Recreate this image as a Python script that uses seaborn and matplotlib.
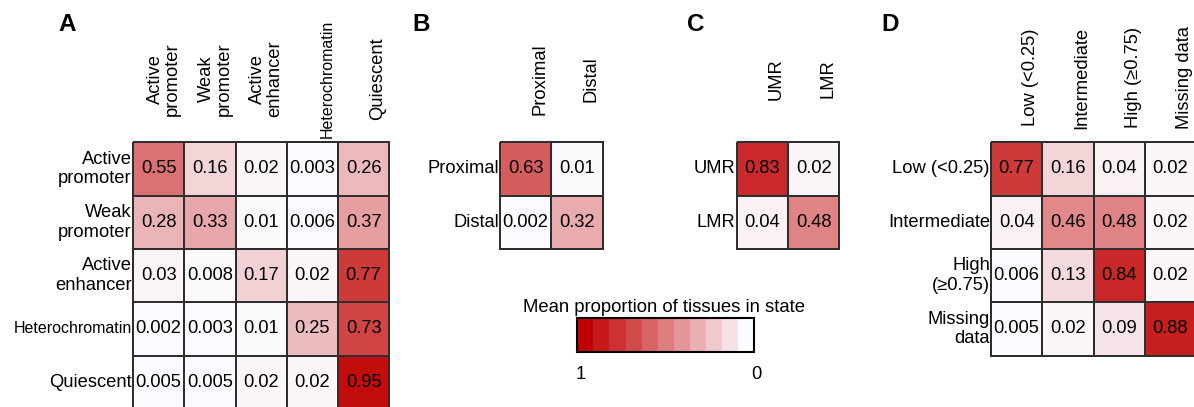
import numpy as np
import pandas as pd
import matplotlib
matplotlib.use("Agg")
import matplotlib.pyplot as plt
import matplotlib.transforms as mtransforms
from matplotlib.colors import LinearSegmentedColormap
import seaborn as sns

sns.set_style("white")
plt.rcParams["font.family"] = ["Liberation Sans", "DejaVu Sans"]
plt.rcParams["text.color"] = "black"
plt.rcParams["xtick.color"] = "black"
plt.rcParams["ytick.color"] = "black"
plt.rcParams["xtick.labelcolor"] = "black"
plt.rcParams["ytick.labelcolor"] = "black"

# ---- data -------------------------------------------------------------
chrom_states = ["Active\npromoter", "Weak\npromoter", "Active\nenhancer",
                "Heterochromatin", "Quiescent"]
chrom_values = [[0.55, 0.16, 0.02, 0.003, 0.26],
                [0.28, 0.33, 0.01, 0.006, 0.37],
                [0.03, 0.008, 0.17, 0.02, 0.77],
                [0.002, 0.003, 0.01, 0.25, 0.73],
                [0.005, 0.005, 0.02, 0.02, 0.95]]

tss_classes = ["Proximal", "Distal"]
tss_values = [[0.63, 0.01],
              [0.002, 0.32]]

meth_regions = ["UMR", "LMR"]
meth_values = [[0.83, 0.02],
               [0.04, 0.48]]

meth_levels_cols = ["Low (<0.25)", "Intermediate", "High (\u22650.75)", "Missing data"]
meth_levels_rows = ["Low (<0.25)", "Intermediate", "High\n(\u22650.75)", "Missing\ndata"]
meth_level_values = [[0.77, 0.16, 0.04, 0.02],
                     [0.04, 0.46, 0.48, 0.02],
                     [0.006, 0.13, 0.84, 0.02],
                     [0.005, 0.02, 0.09, 0.88]]

legend_levels = [1.0, 0.9, 0.8, 0.7, 0.6, 0.5, 0.4, 0.3, 0.2, 0.1, 0.0]
legend_ticks = ["1", "0"]
legend_title = "Mean proportion of tissues in state"

# ---- figure -------------------------------------------------------------
W, H = 1194, 407
fig = plt.figure(figsize=(W / 100, H / 100), dpi=100)
cmap = LinearSegmentedColormap.from_list("prop", ["#FCFBFF", "#C00000"])

FS = 13.2
CELL_W, CELL_H = 51.25, 53.3
LINE_C = "#2e2e2e"


def px_axes(left, top, width, height):
    return fig.add_axes([left / W, 1 - (top + height) / H, width / W, height / H])


def panel(values, rows, cols, left, top, col_center_y, small=()):
    nr, nc = len(rows), len(cols)
    ax = px_axes(left, top, nc * CELL_W, nr * CELL_H)
    df = pd.DataFrame(values, index=rows, columns=cols)
    sns.heatmap(df, ax=ax, cmap=cmap, vmin=0, vmax=1, annot=True, fmt="g",
                cbar=False, linewidths=1.4, linecolor=LINE_C,
                xticklabels=False, yticklabels=True,
                annot_kws={"color": "black", "fontsize": FS})
    ax.collections[0].set_clip_on(False)
    ax.tick_params(axis="both", length=0, pad=0.8)
    for lab in ax.get_yticklabels():
        lab.set_rotation(0)
        lab.set_fontsize(11.5 if lab.get_text() in small else FS)
        lab.set_ha("right")
        lab.set_multialignment("right")
        lab.set_color("black")
    trans = mtransforms.blended_transform_factory(ax.transData, fig.transFigure)
    trans = mtransforms.offset_copy(trans, fig=fig, x=-3, y=0, units="dots")
    for j, name in enumerate(cols):
        ax.text(j + 1, 1 - col_center_y / H, name, transform=trans,
                rotation=90, ha="right", va="center", multialignment="center",
                fontsize=11.5 if name in small else FS, linespacing=1.05,
                color="black")
    return ax


panel(chrom_values, chrom_states, chrom_states, 133, 142.3, 79,
      small=("Heterochromatin",))
panel(tss_values, tss_classes, tss_classes, 500, 142.3, 79)
panel(meth_values, meth_regions, meth_regions, 736.7, 142.3, 79)
panel(meth_level_values, meth_levels_rows, meth_levels_cols, 991, 142.3, 77.5)

# ---- colour legend ------------------------------------------------------
cax = px_axes(577.3, 318.3, 177, 34)
sns.heatmap(pd.DataFrame([legend_levels]), ax=cax, cmap=cmap, vmin=0, vmax=1,
            cbar=False, xticklabels=False, yticklabels=False)
for s in cax.spines.values():
    s.set_visible(True)
    s.set_linewidth(1.5)
    s.set_color("black")
ltrans = mtransforms.blended_transform_factory(cax.transData, fig.transFigure)
cax.text(0.2, 1 - 379 / H, legend_ticks[0], transform=ltrans, ha="center",
         va="baseline", fontsize=FS, color="black")
cax.text(len(legend_levels) + 0.1, 1 - 379 / H, legend_ticks[1], transform=ltrans,
         ha="center", va="baseline", fontsize=FS, color="black")
fig.text(664 / W, 1 - 311.5 / H, legend_title, ha="center", va="baseline",
         fontsize=13.3, color="black")

# ---- panel letters --------------------------------------------------------
for letter, x in zip("ABCD", [58, 412, 687, 881.7]):
    fig.text(x / W, 1 - 30.7 / H, letter, ha="left", va="baseline",
             fontsize=17.5, fontweight="bold", color="black")

fig.savefig("out.png", dpi=100)
